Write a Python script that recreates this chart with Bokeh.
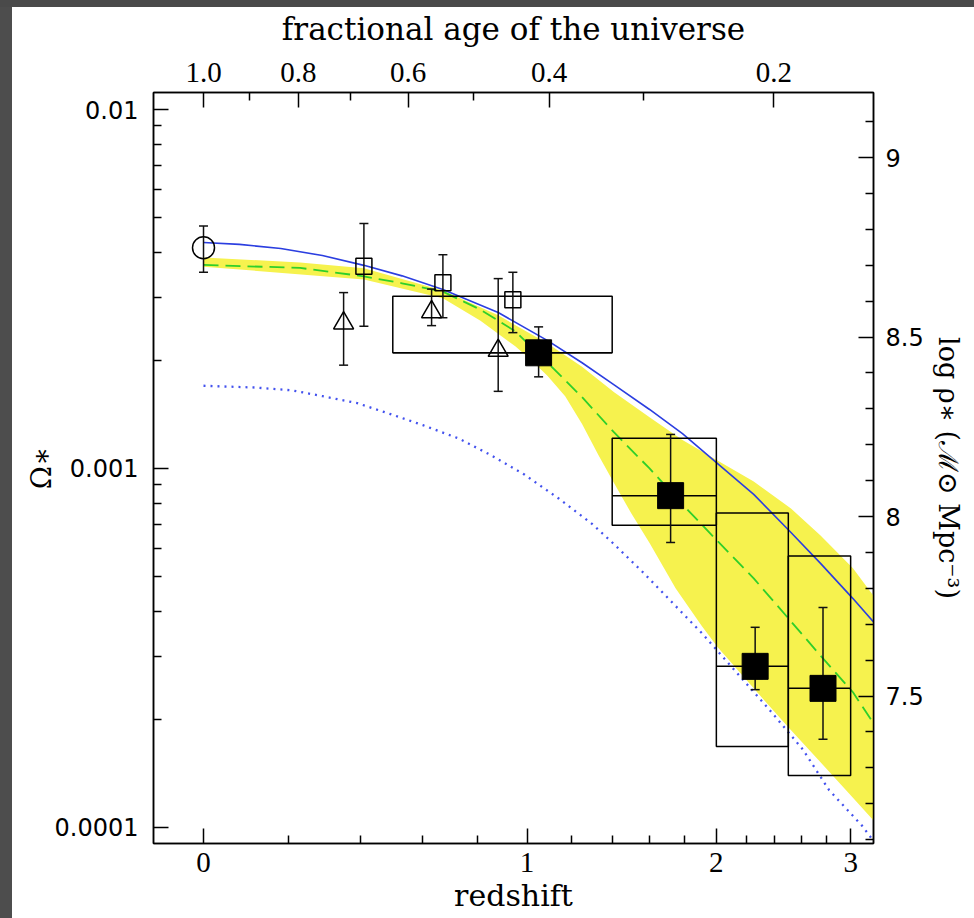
import math
from bokeh.plotting import figure
from bokeh.models import FixedTicker, LogAxis, LinearAxis, Range1d, Spacer, LinearScale
from bokeh.layouts import column, row
from bokeh.embed import file_html
from bokeh.resources import INLINE

# ---------------- data ----------------
# model curves: redshift z and Omega_* values
blue_z = [0, 0.08, 0.18, 0.29, 0.41, 0.53, 0.67, 0.88, 1.09, 1.25, 1.41, 1.60, 1.79, 2.01, 2.25,
          2.52, 2.75, 3.02, 3.22]
blue_val = [4.26e-3, 4.21e-3, 4.10e-3, 3.92e-3, 3.68e-3, 3.44e-3, 3.15e-3, 2.72e-3, 2.27e-3, 1.97e-3,
            1.71e-3, 1.46e-3, 1.25e-3, 1.03e-3, 8.47e-4, 6.63e-4, 5.44e-4, 4.34e-4, 3.68e-4]

green_z = [0, 0.23, 0.41, 0.53, 0.67, 0.81, 0.95, 1.09, 1.25, 1.41, 1.60, 1.79, 2.01, 2.25, 2.52,
           2.75, 3.02, 3.22]
green_val = [3.69e-3, 3.62e-3, 3.43e-3, 3.28e-3, 3.11e-3, 2.77e-3, 2.41e-3, 1.97e-3, 1.58e-3, 1.26e-3,
             1.00e-3, 7.94e-4, 6.26e-4, 4.94e-4, 3.75e-4, 3.01e-4, 2.38e-4, 1.91e-4]

dot_z = [0, 0.12, 0.21, 0.29, 0.39, 0.49, 0.60, 0.73, 0.85, 0.99, 1.14, 1.30, 1.41, 1.57, 1.91, 2.12,
         2.36, 2.61, 2.82, 3.10, 3.22]
dot_val = [1.70e-3, 1.68e-3, 1.65e-3, 1.59e-3, 1.52e-3, 1.42e-3, 1.32e-3, 1.21e-3, 1.09e-3, 9.6e-4,
           8.25e-4, 7.0e-4, 6.15e-4, 5.10e-4, 3.47e-4, 2.74e-4, 2.13e-4, 1.65e-4, 1.27e-4, 1.01e-4, 9.0e-5]

band_up_z = [0, 0.23, 0.41, 0.67, 0.88, 1.09, 1.25, 1.41, 1.60, 1.79, 2.01, 2.25, 2.52, 2.75, 3.02, 3.22]
band_up = [3.87e-3, 3.75e-3, 3.61e-3, 3.13e-3, 2.67e-3, 2.23e-3, 1.92e-3, 1.63e-3, 1.39e-3, 1.20e-3,
           1.05e-3, 9.2e-4, 7.74e-4, 6.51e-4, 5.27e-4, 4.34e-4]
band_lo_z = [0, 0.41, 0.67, 0.81, 0.95, 1.02, 1.09, 1.17, 1.25, 1.33, 1.41, 1.50, 1.60, 1.75, 1.91,
             2.01, 2.25, 2.50, 2.75, 3.0, 3.22]
band_lo = [3.65e-3, 3.36e-3, 2.98e-3, 2.58e-3, 2.19e-3, 2.00e-3, 1.81e-3, 1.59e-3, 1.33e-3, 1.09e-3,
           9.1e-4, 7.5e-4, 6.2e-4, 4.63e-4, 3.63e-4, 3.17e-4, 2.44e-4, 1.90e-4, 1.52e-4, 1.23e-4, 1.03e-4]

# data points
circ_z, circ_val, circ_lo, circ_hi = [0.0], [4.12e-3], [3.52e-3], [4.74e-3]
osq_z = [0.41, 0.67, 0.94]
osq_val = [3.66e-3, 3.29e-3, 2.95e-3]
osq_lo = [2.49e-3, 2.63e-3, 2.39e-3]
osq_hi = [4.81e-3, 3.94e-3, 3.52e-3]
tri_z = [0.35, 0.63, 0.88]
tri_val = [2.54e-3, 2.73e-3, 2.13e-3]
tri_lo = [1.94e-3, 2.50e-3, 1.64e-3]
tri_hi = [3.09e-3, 3.16e-3, 3.38e-3]
fsq_z = [1.05, 1.72, 2.26, 2.77]
fsq_val = [2.10e-3, 8.4e-4, 2.81e-4, 2.44e-4]
fsq_lo = [1.80e-3, 6.22e-4, 2.42e-4, 1.76e-4]
fsq_hi = [2.48e-3, 1.244e-3, 3.61e-4, 4.10e-4]

# boxes
box_z0 = [0.5, 1.4, 2.0, 2.5]
box_z1 = [1.4, 2.0, 2.5, 3.0]
box_bot = [2.10e-3, 6.95e-4, 1.68e-4, 1.395e-4]
box_top = [3.02e-3, 1.214e-3, 7.51e-4, 5.70e-4]
box_mid = [2.10e-3, 8.4e-4, 2.81e-4, 2.44e-4]

# ticks / labels
z_major = [0, 1, 2, 3]
z_major_labels = ["0", "1", "2", "3"]
z_minor = [0.2, 0.4, 0.6, 0.8, 1.2, 1.4, 1.6, 1.8, 2.2, 2.4, 2.6, 2.8]
age_major = [1.0, 0.8, 0.6, 0.4, 0.2]
age_major_labels = ["1.0", "0.8", "0.6", "0.4", "0.2"]
age_minor = [0.9, 0.7, 0.5, 0.3]
om_major = [1e-4, 1e-3, 1e-2]
om_major_labels = ["0.0001", "0.001", "0.01"]
rho_major = [7.5, 8.0, 8.5, 9.0]
rho_major_labels = ["7.5", "8", "8.5", "9"]

# ---------------- scales ----------------
X0, X1 = 0.8984, 4.2007        # 1+z at frame edges
Y0, Y1 = 9.02e-5, 1.1153e-2    # Omega at frame edges
RHO_OFF = 11.134               # log rho = log Omega + offset (h=0.7)
OM_L, OM_M = 0.7, 0.3


def opz(zs):
    return [1.0 + z for z in zs]


def age_to_opz(a):
    s = math.sqrt(OM_L / OM_M)
    A = math.asinh(s)
    return (math.sinh(a * A) / s) ** (-2.0 / 3.0)


p = figure(width=962, height=911, x_axis_type="log", y_axis_type="log",
           x_range=Range1d(X0, X1), y_range=Range1d(Y0, Y1),
           output_backend="svg", toolbar_location=None,
           min_border_left=141, min_border_right=101, min_border_top=85, min_border_bottom=75)
p.background_fill_color = "white"
p.border_fill_color = "white"
p.outline_line_color = "black"
p.outline_line_width = 1.5
p.xgrid.visible = False
p.ygrid.visible = False

TITLE_FONT = "DejaVu Serif"


def style(ax, font, size):
    ax.axis_line_color = "black"
    ax.axis_line_width = 1.5
    ax.major_tick_line_color = "black"
    ax.major_tick_line_width = 1.5
    ax.minor_tick_line_color = "black"
    ax.minor_tick_line_width = 1.5
    ax.major_tick_in = 15
    ax.major_tick_out = 0
    ax.minor_tick_in = 8
    ax.minor_tick_out = 0
    ax.major_label_text_font = font
    ax.major_label_text_font_size = size
    ax.major_label_text_color = "black"
    ax.axis_label_text_font = TITLE_FONT
    ax.axis_label_text_font_size = "31px"
    ax.axis_label_text_font_style = "normal"
    ax.axis_label_text_color = "black"


# bottom axis: redshift
bx = p.xaxis[0]
bx.ticker = FixedTicker(ticks=opz(z_major), minor_ticks=opz(z_minor))
bx.major_label_overrides = {1.0 + z: lab for z, lab in zip(z_major, z_major_labels)}
bx.axis_label = "redshift"
style(bx, "Liberation Serif", "29px")
bx.axis_label_text_font_size = "30px"
bx.major_label_standoff = 9
bx.axis_label_standoff = 3

# left axis: Omega
ly = p.yaxis[0]
ly.ticker = FixedTicker(ticks=om_major,
                        minor_ticks=[k * 10.0 ** e for e in (-5, -4, -3) for k in range(2, 10)])
ly.major_label_overrides = {v: lab for v, lab in zip(om_major, om_major_labels)}
ly.axis_label = "Ω∗"
style(ly, "DejaVu Sans", "24px")
ly.axis_label_text_font_size = "28px"
ly.major_label_standoff = 15
ly.axis_label_standoff = -6

# top axis: fractional age
age_pos = [age_to_opz(a) for a in age_major]
tx = LogAxis(ticker=FixedTicker(ticks=age_pos, minor_ticks=[age_to_opz(a) for a in age_minor]),
             major_label_overrides={v: lab for v, lab in zip(age_pos, age_major_labels)},
             axis_label="fractional age of the universe")
style(tx, "Liberation Serif", "29px")
tx.major_label_standoff = 11
tx.axis_label_standoff = 13
p.add_layout(tx, "above")

# right axis: log rho (linear scale)
p.extra_y_ranges = {"rho": Range1d(math.log10(Y0) + RHO_OFF, math.log10(Y1) + RHO_OFF)}
p.extra_y_scales = {"rho": LinearScale()}
rho_minor = [round(7.0 + 0.1 * i, 1) for i in range(1, 22)]
rho_minor = [v for v in rho_minor if v not in rho_major]
ry = LinearAxis(y_range_name="rho", ticker=FixedTicker(ticks=rho_major, minor_ticks=rho_minor),
                major_label_overrides={v: lab for v, lab in zip(rho_major, rho_major_labels)},
                axis_label="log ρ∗ (ℳ⊙ Mpc⁻³)")
style(ry, "DejaVu Sans", "24px")
ry.axis_label_text_font_size = "27px"
ry.major_label_standoff = 12
ry.axis_label_standoff = 6
p.add_layout(ry, "right")

# ---------------- glyphs ----------------
p.patch(opz(band_up_z) + opz(band_lo_z)[::-1], band_up + band_lo[::-1],
        fill_color="#f6f24e", line_color=None)

p.line(opz(dot_z), dot_val, line_color="#4352ee", line_width=2.3, line_dash="2 5")
p.line(opz(green_z), green_val, line_color="#2fcf2a", line_width=1.8, line_dash="15 7")
p.line(opz(blue_z), blue_val, line_color="#2b3ee0", line_width=1.6)

p.quad(left=opz(box_z0), right=opz(box_z1), bottom=box_bot, top=box_top,
       fill_color=None, line_color="black", line_width=1.5)
p.segment(x0=opz(box_z0), y0=box_mid, x1=opz(box_z1), y1=box_mid,
          line_color="black", line_width=1.5)

EB = "#111111"
for zs, lo, hi in [(circ_z, circ_lo, circ_hi), (osq_z, osq_lo, osq_hi),
                   (tri_z, tri_lo, tri_hi), (fsq_z, fsq_lo, fsq_hi)]:
    xs = opz(zs)
    p.segment(x0=xs, y0=lo, x1=xs, y1=hi, line_color=EB, line_width=1.5)
    p.scatter(xs, lo, marker="dash", size=9, line_color=EB, line_width=1.5)
    p.scatter(xs, hi, marker="dash", size=9, line_color=EB, line_width=1.5)

p.scatter(opz(circ_z), circ_val, marker="circle", size=22, fill_color=None,
          line_color="black", line_width=1.5)
p.scatter(opz(osq_z), osq_val, marker="square", size=16, fill_color=None,
          line_color="black", line_width=1.5)
p.scatter(opz(tri_z), tri_val, marker="triangle", size=20, fill_color=None,
          line_color="black", line_width=1.5)
p.scatter(opz(fsq_z), fsq_val, marker="square", size=26, fill_color="black",
          line_color="black", line_width=1)

top_strip = Spacer(width=974, height=7, styles={"background-color": "#4a4a4a"})
left_strip = Spacer(width=12, height=911, styles={"background-color": "#4d4d4d"})
layout = column(top_strip, row(left_strip, p))

open("out.html", "w").write(file_html(layout, INLINE))
